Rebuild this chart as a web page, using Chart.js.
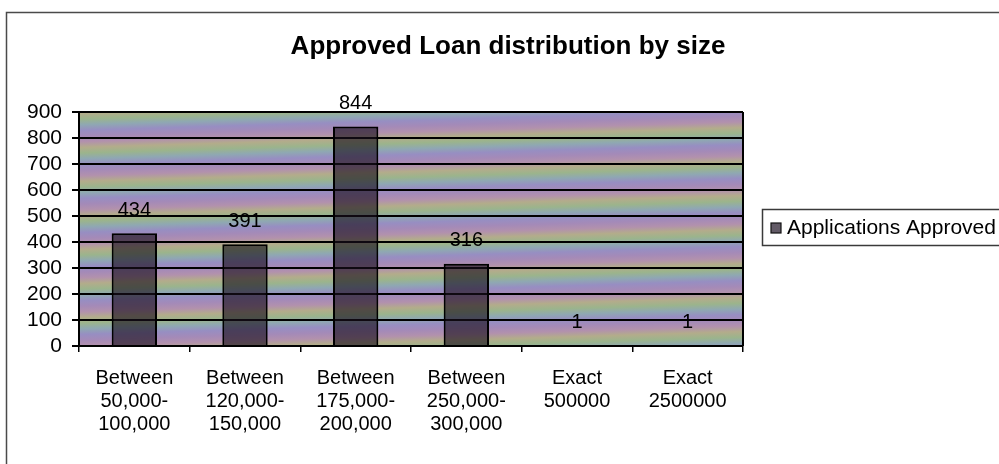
<!DOCTYPE html>
<html>
<head>
<meta charset="utf-8">
<script src="https://cdn.jsdelivr.net/npm/chart.js@4.4.1/dist/chart.umd.min.js"></script>
<style>
  html, body { margin: 0; padding: 0; background: #ffffff; }
  #wrap { width: 999px; height: 464px; position: relative; }
  canvas { display: block; }
</style>
</head>
<body>
<div id="wrap"><canvas id="loanChart" width="999" height="464"></canvas></div>
<script>
// Loan size buckets and number of approved applications in each
const categories = [
  ["Between", "50,000-", "100,000"],
  ["Between", "120,000-", "150,000"],
  ["Between", "175,000-", "200,000"],
  ["Between", "250,000-", "300,000"],
  ["Exact", "500000"],
  ["Exact", "2500000"]
];
const approved = [434, 391, 844, 316, 1, 1];
const seriesName = "Applications Approved";
const chartTitle = "Approved Loan distribution by size";
const yMin = 0;
const yMax = 900;
const yStep = 100;

const FONT = "Arial, 'Liberation Sans', sans-serif";

// Banded rainbow texture behind the bars
const bandColors = ["#a48ab8", "#b291ad", "#b3ac8b", "#9bb48c", "#8fa8b2", "#978ec2"];
const plotBackground = {
  id: "plotBackground",
  beforeDraw(chart) {
    const { ctx, chartArea: a } = chart;
    ctx.save();
    ctx.fillStyle = "#ffffff";
    ctx.fillRect(0, 0, chart.width, chart.height);
    // outer chart frame
    ctx.strokeStyle = "#4a4a4a";
    ctx.lineWidth = 1.5;
    ctx.strokeRect(6.5, 12.5, chart.width + 20, chart.height + 20);
    // striped gradient, slightly tilted
    const period = 34;
    const ang = 0.03;
    const len = (a.bottom - a.top) + (a.right - a.left) * Math.tan(ang) + period;
    const x0 = a.left, y0 = a.top - (a.right - a.left) * Math.sin(ang) * 0.5;
    const g = ctx.createLinearGradient(x0, y0, x0 + len * Math.sin(ang), y0 + len * Math.cos(ang));
    const cycles = len / period;
    const n = bandColors.length;
    const steps = Math.ceil(cycles * n);
    for (let i = 0; i <= steps; i++) {
      const t = Math.min(1, i / (cycles * n));
      g.addColorStop(t, bandColors[i % n]);
    }
    ctx.fillStyle = g;
    ctx.fillRect(a.left, a.top, a.right - a.left, a.bottom - a.top);
    ctx.restore();
  },
  afterDraw(chart) {
    const { ctx, chartArea: a } = chart;
    ctx.save();
    // plot area right edge
    ctx.strokeStyle = "#000000";
    ctx.lineWidth = 2;
    ctx.beginPath();
    ctx.moveTo(a.right, a.top);
    ctx.lineTo(a.right, a.bottom);
    ctx.stroke();
    // title
    ctx.fillStyle = "#000000";
    ctx.font = "bold 26px " + FONT;
    ctx.textAlign = "center";
    ctx.textBaseline = "middle";
    ctx.fillText(chartTitle, 508, 47);
    // legend box
    const lx = 762, ly = 209, lh = 36;
    ctx.strokeStyle = "#3a3a3a";
    ctx.lineWidth = 1.5;
    ctx.strokeRect(lx + 0.5, ly + 0.5, chart.width, lh);
    ctx.fillStyle = "#625a66";
    ctx.fillRect(771, 223, 10, 10);
    ctx.strokeStyle = "#111111";
    ctx.lineWidth = 1.2;
    ctx.strokeRect(771, 223, 10, 10);
    ctx.fillStyle = "#000000";
    ctx.font = "21px " + FONT;
    ctx.textAlign = "left";
    ctx.fillText(chart.data.datasets[0].label, 787, 228);
    ctx.restore();
  }
};

// Value printed above each bar
const valueLabels = {
  id: "valueLabels",
  afterDatasetsDraw(chart) {
    const { ctx } = chart;
    const meta = chart.getDatasetMeta(0);
    const values = chart.data.datasets[0].data;
    ctx.save();
    ctx.fillStyle = "#000000";
    ctx.font = "20px " + FONT;
    ctx.textAlign = "center";
    ctx.textBaseline = "middle";
    meta.data.forEach((bar, i) => {
      ctx.fillText(String(values[i]), bar.x, bar.y - 23);
    });
    ctx.restore();
  }
};

new Chart(document.getElementById("loanChart"), {
  type: "bar",
  data: {
    labels: categories,
    datasets: [{
      label: seriesName,
      data: approved,
      backgroundColor: "rgba(24, 14, 28, 0.62)",
      borderColor: "#000000",
      borderWidth: 2,
      barPercentage: 0.41,
      categoryPercentage: 1.0
    }]
  },
  options: {
    responsive: false,
    animation: false,
    devicePixelRatio: 1,
    layout: { padding: { left: 0, top: 112, right: 256, bottom: 0 } },
    plugins: {
      legend: { display: false },
      title: { display: false },
      tooltip: { enabled: false }
    },
    scales: {
      x: {
        grid: {
          offset: true,
          drawOnChartArea: false,
          drawTicks: true,
          tickLength: 6,
          color: "#000000",
          lineWidth: 1.5
        },
        border: { display: true, color: "#000000", width: 2 },
        ticks: {
          color: "#000000",
          font: { family: FONT, size: 20, lineHeight: 1.15 },
          padding: 15,
          maxRotation: 0,
          autoSkip: false
        },
        afterFit(scale) { scale.height = 118; }
      },
      y: {
        min: yMin,
        max: yMax,
        grid: {
          color: "#000000",
          lineWidth: 2,
          drawTicks: true,
          tickLength: 7
        },
        border: { display: true, color: "#000000", width: 2 },
        ticks: {
          stepSize: yStep,
          autoSkip: false,
          color: "#000000",
          font: { family: FONT, size: 21 },
          padding: 10
        },
        afterFit(scale) { scale.width = 79; }
      }
    }
  },
  plugins: [plotBackground, valueLabels]
});
</script>
</body>
</html>
